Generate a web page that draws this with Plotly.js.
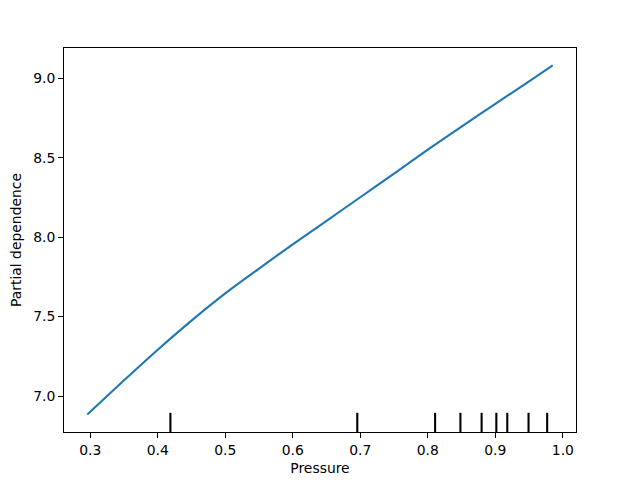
<!DOCTYPE html>
<html>
<head>
<meta charset="utf-8">
<script src="https://cdn.plot.ly/plotly-3.0.1.min.js"></script>
<style>html,body{margin:0;padding:0;background:#fff;}#chart{width:640px;height:480px;}</style>
</head>
<body>
<div id="chart"></div>
<script>
// Partial dependence curve
const pressure = [0.2956, 0.35, 0.40, 0.45, 0.50, 0.55, 0.60, 0.65, 0.70, 0.75, 0.80, 0.85, 0.90, 0.95, 0.985];
const partialDependence = [6.884, 7.099, 7.292, 7.475, 7.646, 7.802, 7.955, 8.103, 8.251, 8.40, 8.55, 8.695, 8.839, 8.98, 9.080];
// Decile rug marks
const deciles = [0.4187, 0.6955, 0.8108, 0.8483, 0.8797, 0.9015, 0.9177, 0.9492, 0.9768];
const xTicks = [0.3, 0.4, 0.5, 0.6, 0.7, 0.8, 0.9, 1.0];
const yTicks = [7.0, 7.5, 8.0, 8.5, 9.0];

const font = {family: 'DejaVu Sans, sans-serif', size: 13.9, color: '#000'};

const trace = {
  x: pressure, y: partialDependence, type: 'scatter', mode: 'lines',
  line: {color: '#1f77b4', width: 2.1, shape: 'spline', smoothing: 0.8},
  hoverinfo: 'skip', showlegend: false
};

const shapes = deciles.map(d => ({
  type: 'line', xref: 'x', yref: 'y domain', x0: d, x1: d, y0: 0, y1: 0.05,
  line: {color: '#000', width: 2.1}
}));

const axisCommon = {
  showgrid: false, zeroline: false, showline: true, mirror: true,
  linecolor: '#000', linewidth: 1.1, ticks: 'outside', ticklen: 4.9,
  tickwidth: 1.1, tickcolor: '#000', tickfont: font, tickformat: '.1f'
};

const layout = {
  width: 640, height: 480,
  margin: {l: 64, r: 64, t: 48, b: 48},
  paper_bgcolor: '#fff', plot_bgcolor: '#fff',
  font: font,
  xaxis: Object.assign({}, axisCommon, {
    range: [0.2611, 1.0195], tickvals: xTicks,
    title: {text: 'Pressure', font: font, standoff: 6}
  }),
  yaxis: Object.assign({}, axisCommon, {
    range: [6.774, 9.190], tickvals: yTicks,
    title: {text: 'Partial dependence', font: font, standoff: 8}
  }),
  shapes: shapes
};

Plotly.newPlot('chart', [trace], layout, {staticPlot: true, displayModeBar: false});
</script>
</body>
</html>
